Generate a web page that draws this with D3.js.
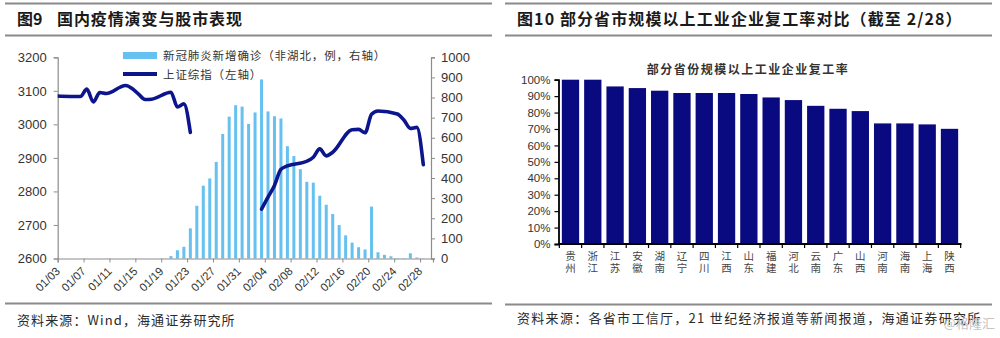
<!DOCTYPE html>
<html><head><meta charset="utf-8">
<script src="https://cdn.jsdelivr.net/npm/d3@7/dist/d3.min.js"></script>
<style>
body{margin:0;background:#fff;}
svg{display:block;}
text{font-family:"Liberation Sans",Arial,sans-serif;}
.cjk{font-family:"Noto Sans CJK SC","Noto Sans",sans-serif;}
</style></head>
<body>
<svg id="c" width="1000" height="338"></svg>
<script>
// ---------- data: left chart ----------
const caseDates = ["01/20","01/21","01/22","01/23","01/24","01/25","01/26","01/27","01/28","01/29","01/30","01/31",
  "02/01","02/02","02/03","02/04","02/05","02/06","02/07","02/08","02/09","02/10","02/11","02/12","02/13","02/14",
  "02/15","02/16","02/17","02/18","02/19","02/20","02/21","02/22","02/23","02/24","02/25","02/26","02/27","02/28"];
const newCases = [12,41,58,150,262,362,398,480,619,705,762,755,
  669,726,890,731,707,696,558,509,444,381,377,312,267,221,
  166,115,79,56,45,258,31,18,11,2,2,26,5,1];
const indexDates1 = ["01/02","01/03","01/06","01/07","01/08","01/09","01/10","01/13","01/14","01/15","01/16","01/17","01/20","01/21","01/22","01/23"];
const indexValues1 = [3085,3084,3083,3105,3067,3095,3092,3116,3107,3090,3074,3075,3096,3052,3061,2976];
const indexDates2 = ["02/03","02/04","02/05","02/06","02/07","02/10","02/11","02/12","02/13","02/14","02/17","02/18","02/19","02/20","02/21","02/24","02/25","02/26","02/27","02/28"];
const indexValues2 = [2747,2783,2818,2866,2876,2890,2902,2927,2906,2917,2984,2985,2975,3030,3040,3031,3013,2988,2991,2880];
const xTickLabels = ["01/03","01/07","01/11","01/15","01/19","01/23","01/27","01/31","02/04","02/08","02/12","02/16","02/20","02/24","02/28"];
const leftTicks = [2600,2700,2800,2900,3000,3100,3200];
const rightTicks = [0,100,200,300,400,500,600,700,800,900,1000];

// ---------- data: right chart ----------
const provinces = ["贵州","浙江","江苏","安徽","湖南","辽宁","四川","江西","山东","福建","河北","云南","广东","山西","河南","海南","上海","陕西"];
const resumeRate = [1.00,1.00,0.959,0.949,0.933,0.919,0.919,0.919,0.913,0.892,0.876,0.841,0.823,0.809,0.734,0.734,0.728,0.701];
const pctTicks = [0,0.1,0.2,0.3,0.4,0.5,0.6,0.7,0.8,0.9,1.0];

const svg = d3.select("#c");

// ---------- frame / titles ----------
function rules(x0,x1,yBottom){
  [3.5,35.5,yBottom].forEach(y=>{
    svg.append("line").attr("x1",x0).attr("x2",x1).attr("y1",y).attr("y2",y)
      .attr("stroke","#8a8a8a").attr("stroke-width",2);
  });
}
rules(5,492,303.5);
rules(505,992,304.5);

svg.append("text").attr("class","cjk").attr("x",17).attr("y",25)
  .attr("font-size",16).attr("font-weight","bold").attr("fill","#1a1a1a")
  .text("图9");
svg.append("text").attr("class","cjk").attr("x",57).attr("y",25)
  .attr("font-size",16).attr("font-weight","bold").attr("fill","#1a1a1a").attr("letter-spacing",0.9)
  .text("国内疫情演变与股市表现");
svg.append("text").attr("class","cjk").attr("x",517).attr("y",25)
  .attr("font-size",16).attr("font-weight","bold").attr("fill","#1a1a1a").attr("letter-spacing",1.1)
  .text("图10 部分省市规模以上工业企业复工率对比（截至 2/28）");
svg.append("text").attr("class","cjk").attr("x",17).attr("y",325)
  .attr("font-size",13).attr("fill","#2a2a2a").attr("letter-spacing",1.1)
  .text("资料来源：Wind，海通证券研究所");
svg.append("text").attr("class","cjk").attr("x",517).attr("y",323)
  .attr("font-size",13).attr("fill","#2a2a2a").attr("letter-spacing",1.3)
  .text("资料来源：各省市工信厅，21 世纪经济报道等新闻报道，海通证券研究所");
svg.append("text").attr("class","cjk").attr("x",995).attr("y",328).attr("text-anchor","end")
  .attr("font-size",13).attr("fill","#c4c4c4").text("@格隆汇");

// ---------- left chart ----------
const parse = s => { const [m,d] = s.split("/").map(Number); return Date.UTC(2020,m-1,d); };
const DAY = 86400000;
const t0 = parse("01/03");
const x = d3.scaleLinear().domain([0,58]).range([57.7,433]);
const dayOf = s => (parse(s)-t0)/DAY;
const yL = d3.scaleLinear().domain([2600,3200]).range([258.5,57.3]);
const yR = d3.scaleLinear().domain([0,1000]).range([258.5,57.3]);

svg.append("defs").append("clipPath").attr("id","clipL")
  .append("rect").attr("x",57.7).attr("y",40).attr("width",433-57.7).attr("height",230);

// bars
const barW = 3;
svg.append("g").selectAll("rect").data(caseDates).join("rect")
  .attr("x",(d)=>x(dayOf(d)+0.5)-barW/2)
  .attr("width",barW)
  .attr("y",(d,i)=>yR(newCases[i]))
  .attr("height",(d,i)=>yR(0)-yR(newCases[i]))
  .attr("fill","#66c1f1");

// axes
const gxL = svg.append("g").attr("transform","translate(0,258.5)")
  .call(d3.axisBottom(x).tickValues(xTickLabels.map(dayOf)).tickSize(4).tickFormat(""));
gxL.select(".domain").attr("stroke","#8c8c8c").attr("stroke-width",1.2);
gxL.selectAll(".tick line").attr("stroke","#8c8c8c");
svg.append("g").selectAll("text").data(xTickLabels).join("text")
  .attr("transform",d=>`translate(${x(dayOf(d))+3},${272}) rotate(-45)`)
  .attr("text-anchor","end").attr("font-size",11.5).attr("fill","#333").text(d=>d);

const gyL = svg.append("g").attr("transform","translate(57.7,0)")
  .call(d3.axisLeft(yL).tickValues(leftTicks).tickSize(4).tickPadding(7).tickFormat(d3.format("d")));
gyL.select(".domain").attr("stroke","#8c8c8c").attr("stroke-width",1.2);
gyL.selectAll(".tick line").attr("stroke","#8c8c8c");
gyL.selectAll(".tick text").attr("font-size",13).attr("fill","#333").attr("font-family","Liberation Sans, Arial, sans-serif");

const gyR = svg.append("g").attr("transform","translate(431,0)")
  .call(d3.axisRight(yR).tickValues(rightTicks).tickSize(4).tickPadding(6).tickFormat(d3.format("d")));
gyR.select(".domain").attr("stroke","#8c8c8c").attr("stroke-width",1.2);
gyR.selectAll(".tick line").attr("stroke","#8c8c8c");
gyR.selectAll(".tick text").attr("font-size",13).attr("fill","#333").attr("font-family","Liberation Sans, Arial, sans-serif");

// index line
const lineGen = d3.line().x(d=>x(dayOf(d[0])+0.5)).y(d=>yL(d[1])).curve(d3.curveMonotoneX);
const gLine = svg.append("g").attr("clip-path","url(#clipL)");
[[indexDates1,indexValues1],[indexDates2,indexValues2]].forEach(([ds,vs])=>{
  gLine.append("path").datum(ds.map((d,i)=>[d,vs[i]])).attr("d",lineGen)
    .attr("fill","none").attr("stroke","#0c158c").attr("stroke-width",3.6)
    .attr("stroke-linejoin","round").attr("stroke-linecap","round");
});

// legend
svg.append("rect").attr("x",123).attr("y",52).attr("width",34).attr("height",7).attr("fill","#66c1f1");
svg.append("text").attr("class","cjk").attr("x",163).attr("y",60).attr("font-size",11.5).attr("fill","#333")
  .attr("letter-spacing",0.9).text("新冠肺炎新增确诊（非湖北，例，右轴）");
svg.append("line").attr("x1",123).attr("x2",157).attr("y1",74).attr("y2",74)
  .attr("stroke","#0c158c").attr("stroke-width",4);
svg.append("text").attr("class","cjk").attr("x",163).attr("y",78.5).attr("font-size",11.5).attr("fill","#333")
  .attr("letter-spacing",0.9).text("上证综指（左轴）");

// ---------- right chart ----------
const xb = d3.scaleBand().domain(provinces).range([558.5,961.5]).paddingInner(0.224).paddingOuter(0.15);
const yP = d3.scaleLinear().domain([0,1]).range([244,79.7]);

svg.append("text").attr("class","cjk").attr("x",748).attr("y",74).attr("text-anchor","middle")
  .attr("font-size",12).attr("font-weight","bold").attr("fill","#333").attr("letter-spacing",1.5)
  .text("部分省份规模以上工业企业复工率");

svg.append("g").selectAll("rect").data(provinces).join("rect")
  .attr("x",d=>xb(d)).attr("width",xb.bandwidth())
  .attr("y",(d,i)=>yP(resumeRate[i])).attr("height",(d,i)=>yP(0)-yP(resumeRate[i]))
  .attr("fill","#0a0a80");

const gyP = svg.append("g").attr("transform","translate(558.5,0)")
  .call(d3.axisLeft(yP).tickValues(pctTicks).tickSize(4).tickPadding(4).tickFormat(d3.format(".0%")));
gyP.select(".domain").attr("stroke","#000").attr("stroke-width",1.8);
gyP.selectAll(".tick line").attr("stroke","#000").attr("stroke-width",1.2);
gyP.selectAll(".tick text").attr("font-size",11.5).attr("fill","#333").attr("font-family","Liberation Sans, Arial, sans-serif");

const step = xb.step();
const bounds = provinces.map(p=>xb(p)-xb.paddingInner()*step/2).concat([xb(provinces[provinces.length-1])+xb.bandwidth()+xb.paddingInner()*step/2]);
svg.append("line").attr("x1",558.5).attr("x2",961.5).attr("y1",244).attr("y2",244)
  .attr("stroke","#000").attr("stroke-width",2);
svg.append("g").selectAll("line").data(bounds).join("line")
  .attr("x1",d=>d).attr("x2",d=>d).attr("y1",244).attr("y2",248)
  .attr("stroke","#000").attr("stroke-width",1.2);

svg.append("g").selectAll("text").data(provinces).join("text")
  .attr("class","cjk").attr("writing-mode","vertical-rl").attr("letter-spacing",1.2)
  .attr("x",d=>xb(d)+xb.bandwidth()/2).attr("y",251)
  .attr("font-size",10.5).attr("fill","#444").text(d=>d);
</script>
</body></html>
